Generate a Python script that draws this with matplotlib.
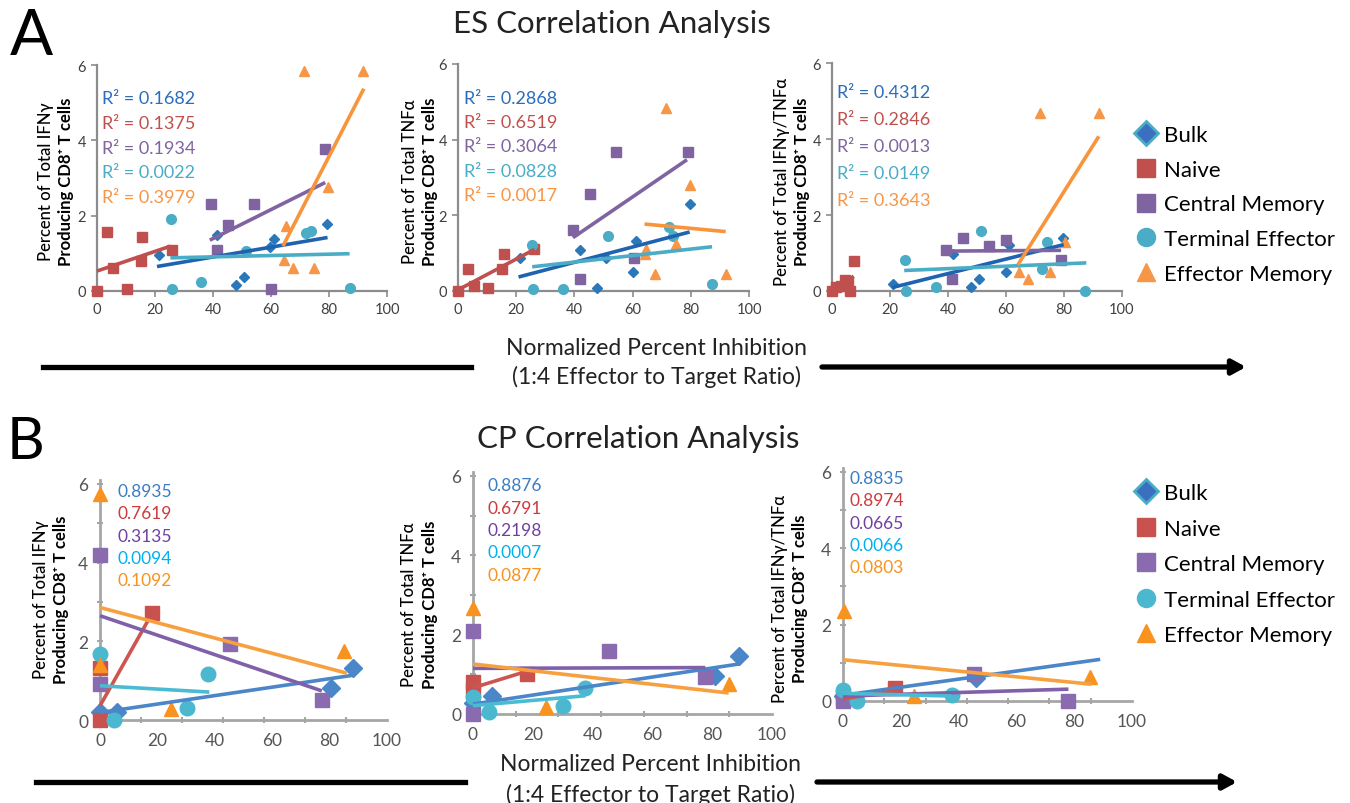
import matplotlib
matplotlib.use("Agg")
import matplotlib.pyplot as plt
from matplotlib.lines import Line2D
from matplotlib.patches import FancyArrowPatch

plt.rcParams["font.family"] = ["Lato", "DejaVu Sans"]

W, H = 1350, 804

series = ["Bulk", "Naive", "Central Memory", "Terminal Effector", "Effector Memory"]
markers = ["D", "s", "s", "o", "^"]

# ---- ES panel (A): points (x = normalized % inhibition, y = % of total) ----
es_ifng = {
    "Bulk": ([21.3, 41.4, 47.9, 50.8, 59.8, 61.0, 79.3], [0.96, 1.49, 0.16, 0.37, 1.17, 1.37, 1.77]),
    "Naive": ([0, 3.4, 5.4, 10.3, 15.5, 15.2, 25.9], [0, 1.57, 0.62, 0.04, 1.43, 0.80, 1.08]),
    "Central Memory": ([39.3, 41.4, 45.2, 54.3, 60.0, 78.7], [2.32, 1.08, 1.75, 2.32, 0.06, 3.78]),
    "Terminal Effector": ([25.5, 25.9, 36.0, 51.5, 72.2, 73.9, 87.1], [1.92, 0.06, 0.24, 1.06, 1.55, 1.59, 0.09]),
    "Effector Memory": ([64.4, 65.0, 67.6, 71.3, 74.9, 79.7, 91.7], [0.81, 1.73, 0.62, 5.84, 0.62, 2.76, 5.84]),
}
es_tnfa = {
    "Bulk": ([21.2, 41.8, 47.9, 51.0, 60.1, 61.0, 79.6], [0.86, 1.09, 0.09, 0.86, 0.49, 1.31, 2.29]),
    "Naive": ([0, 3.4, 5.4, 10.3, 15.7, 15.2, 26.0], [0, 0.57, 0.13, 0.07, 0.97, 0.57, 1.10]),
    "Central Memory": ([39.5, 41.8, 45.5, 54.4, 60.4, 79.0], [1.61, 0.33, 2.56, 3.68, 0.86, 3.68]),
    "Terminal Effector": ([25.5, 25.8, 36.0, 51.5, 72.5, 73.9, 87.3], [1.21, 0.04, 0.04, 1.46, 1.70, 1.46, 0.19]),
    "Effector Memory": ([64.4, 64.7, 67.6, 71.6, 75.0, 79.8, 92.0], [0.97, 1.10, 0.46, 4.85, 1.25, 2.80, 0.46]),
}
es_both = {
    "Bulk": ([21.0, 41.6, 47.9, 50.8, 60.0, 61.0, 79.5], [0.19, 0.98, 0.10, 0.31, 0.50, 1.20, 1.40]),
    "Naive": ([0, 1.5, 3.0, 4.6, 5.5, 6.2, 7.7], [0, 0.10, 0.12, 0.30, 0.25, 0, 0.80]),
    "Central Memory": ([39.3, 41.4, 45.2, 54.3, 60.1, 78.9], [1.09, 0.31, 1.40, 1.18, 1.33, 0.82]),
    "Terminal Effector": ([25.3, 25.6, 36.0, 51.5, 72.4, 74.1, 87.4], [0.81, 0, 0.10, 1.59, 0.59, 1.29, 0]),
    "Effector Memory": ([64.6, 67.5, 71.6, 75.3, 80.2, 92.2], [0.50, 0.31, 4.68, 0.50, 1.29, 4.68]),
}
# trend lines: (x start, x end, y start, y end)
es_ifng_fit = {"Bulk": (20.7, 79.5, 0.65, 1.42), "Naive": (0, 25.3, 0.53, 1.19),
               "Central Memory": (38.9, 78.7, 1.35, 2.88), "Terminal Effector": (25.3, 87.1, 0.88, 0.99),
               "Effector Memory": (64.1, 92.0, 1.19, 5.37)}
es_tnfa_fit = {"Bulk": (20.8, 79.6, 0.37, 1.56), "Naive": (0, 26.3, 0.03, 1.10),
               "Central Memory": (39.5, 78.7, 1.41, 3.47), "Terminal Effector": (25.5, 87.3, 0.64, 1.17),
               "Effector Memory": (64.1, 92.0, 1.77, 1.57)}
es_both_fit = {"Bulk": (20.7, 79.9, 0.09, 1.22), "Naive": (0.3, 7.5, 0.03, 0.39),
               "Central Memory": (39.3, 79.0, 1.05, 1.07), "Terminal Effector": (24.9, 87.7, 0.54, 0.74),
               "Effector Memory": (64.1, 92.0, 0.69, 4.07)}
es_ifng_r2 = ["0.1682", "0.1375", "0.1934", "0.0022", "0.3979"]
es_tnfa_r2 = ["0.2868", "0.6519", "0.3064", "0.0828", "0.0017"]
es_both_r2 = ["0.4312", "0.2846", "0.0013", "0.0149", "0.3643"]

# ---- CP panel (B) ----
cp_ifng = {
    "Bulk": ([0, 5.8, 80.6, 88.1], [0.20, 0.20, 0.82, 1.32]),
    "Naive": ([0, 0, 18.0], [0, 1.33, 2.71]),
    "Central Memory": ([0, 0, 45.3, 77.3], [4.19, 0.91, 1.94, 0.51]),
    "Terminal Effector": ([0, 5.0, 30.2, 37.8], [1.68, 0, 0.31, 1.16]),
    "Effector Memory": ([0, 0, 24.7, 85.1], [5.75, 1.40, 0.27, 1.76]),
}
cp_tnfa = {
    "Bulk": ([0, 6.4, 81.0, 88.9], [0.28, 0.45, 0.95, 1.46]),
    "Naive": ([0, 0, 18.1], [0.80, 0.60, 1.01]),
    "Central Memory": ([0, 0, 45.4, 77.7], [2.08, 0, 1.58, 0.93]),
    "Terminal Effector": ([0, 5.2, 30.1, 37.6], [0.42, 0.04, 0.19, 0.65]),
    "Effector Memory": ([0, 24.5, 85.5], [2.67, 0.17, 0.76]),
}
cp_both = {
    "Bulk": ([0, 46.0], [0.12, 0.60]),
    "Naive": ([0, 17.9], [0.08, 0.35]),
    "Central Memory": ([0, 45.3, 77.8], [0, 0.70, 0]),
    "Terminal Effector": ([0, 4.9, 37.6], [0.29, 0, 0.15]),
    "Effector Memory": ([0.3, 24.6, 85.5], [2.36, 0.13, 0.64]),
}
cp_ifng_fit = {"Bulk": (0, 88.4, 0.19, 1.14), "Naive": (0, 16.9, 0.36, 2.55),
               "Central Memory": (0, 77.3, 2.65, 0.74), "Terminal Effector": (0, 38.1, 0.87, 0.71),
               "Effector Memory": (0, 86.0, 2.86, 1.19)}
cp_tnfa_fit = {"Bulk": (0, 88.9, 0.25, 1.26), "Naive": (0, 18.1, 0.66, 1.08),
               "Central Memory": (0, 77.7, 1.15, 1.17), "Terminal Effector": (0, 37.6, 0.21, 0.46),
               "Effector Memory": (0, 85.5, 1.26, 0.53)}
cp_both_fit = {"Bulk": (0, 89.0, 0.15, 1.09), "Naive": (0, 17.9, 0.06, 0.26),
               "Central Memory": (0, 78.0, 0.13, 0.31), "Terminal Effector": (0, 37.6, 0.20, 0.13),
               "Effector Memory": (0, 86.0, 1.08, 0.44)}
cp_ifng_r2 = ["0.8935", "0.7619", "0.3135", "0.0094", "0.1092"]
cp_tnfa_r2 = ["0.8876", "0.6791", "0.2198", "0.0007", "0.0877"]
cp_both_r2 = ["0.8835", "0.8974", "0.0665", "0.0066", "0.0803"]

# colours (Excel-like palette)
es_mark = ["#2b78b8", "#c0504d", "#8064a2", "#4bacc6", "#f79646"]
es_line = ["#1f63b0", "#c0504d", "#8064a2", "#4bacc6", "#f7943c"]
es_text = ["#2a6ebb", "#c0504d", "#8064a2", "#4bacc6", "#f79646"]
cp_mark = ["#4a86c8", "#c9524f", "#8a6bb0", "#4bb8d0", "#f7931e"]
cp_line = ["#4a86c8", "#cc5550", "#8060a8", "#4bbbd4", "#f7a040"]
cp_text = ["#3a7dc4", "#d03a3c", "#7040a0", "#00b0f0", "#f7931e"]

fig = plt.figure(figsize=(W / 100, H / 100), dpi=100)


def fx(px):
    return px / W


def fy(py):
    return 1 - py / H


def make_axes(left, right, bottom, top):
    return fig.add_axes([fx(left), fy(bottom), (right - left) / W, (bottom - top) / H])


def style_es(ax):
    ax.set_xlim(0, 100)
    ax.set_ylim(0, 6)
    for s in ["top", "right"]:
        ax.spines[s].set_visible(False)
    for s in ["left", "bottom"]:
        ax.spines[s].set_color("#8c8c8c")
        ax.spines[s].set_linewidth(1.6)
    ax.set_xticks(range(0, 101, 20))
    ax.set_yticks(range(0, 7, 2))
    ax.tick_params(length=4, width=1.2, color="#8c8c8c", labelsize=10.5, labelcolor="#404040", pad=4)
    ax.patch.set_alpha(0)


def style_cp(ax):
    ax.set_xlim(0, 100)
    ax.set_ylim(0, 6.1)
    for s in ["top", "right"]:
        ax.spines[s].set_visible(False)
    for s in ["left", "bottom"]:
        ax.spines[s].set_color("#a6a6a6")
        ax.spines[s].set_linewidth(2)
    ax.set_xticks(range(0, 101, 20))
    ax.set_xticks([k * 100 / 7 for k in range(1, 8)], minor=True)
    ax.set_yticks(range(0, 7, 2))
    ax.set_yticks([1, 3, 5], minor=True)
    ax.tick_params(axis="x", which="major", length=0, labelsize=12.5, labelcolor="#555555", pad=9)
    ax.tick_params(axis="y", which="major", length=5, width=1.5, color="#a6a6a6", direction="inout",
                   labelsize=12.5, labelcolor="#555555", pad=6)
    ax.tick_params(which="minor", length=5, width=1.5, color="#a6a6a6", direction="inout")
    ax.patch.set_alpha(0)


def draw_panel(ax, pts, fits, msizes, mcol, lcol):
    for i, name in enumerate(series):
        x, y = pts[name]
        ax.plot(x, y, linestyle="none", marker=markers[i], ms=msizes[i], color=mcol[i],
                mec=mcol[i], clip_on=False, zorder=3)
    for i, name in enumerate(series):
        x0, x1, y0, y1 = fits[name]
        ax.plot([x0, x1], [y0, y1], color=lcol[i], lw=2.6, solid_capstyle="butt",
                clip_on=False, zorder=4)


def r2_text(x_px, y_px, step, values, colors, prefix, size):
    for k, v in enumerate(values):
        fig.text(fx(x_px), fy(y_px + k * step), prefix + v, color=colors[k], fontsize=size,
                 ha="left", va="center")


def ylabel(x1, x2, yc, line1, size):
    fig.text(fx(x1), fy(yc), line1, rotation=90, ha="center", va="center", fontsize=size,
             fontweight="medium")
    fig.text(fx(x2), fy(yc), "Producing CD8\u207a T cells", rotation=90, ha="center", va="center",
             fontsize=size, fontweight="bold")


es_ms = [5.5, 6.5, 6.5, 7, 7.5]
cp_ms = [9, 10, 10, 10.5, 10.5]

# ---------------- panel A ----------------
a1 = make_axes(97, 387, 292, 66)
a2 = make_axes(458, 749, 292, 65)
a3 = make_axes(832, 1122, 292, 64)
for ax, pts, fit in [(a1, es_ifng, es_ifng_fit), (a2, es_tnfa, es_tnfa_fit), (a3, es_both, es_both_fit)]:
    style_es(ax)
    draw_panel(ax, pts, fit, es_ms, es_mark, es_line)

r2_text(102, 99, 24.8, es_ifng_r2, es_text, "R\u00b2 = ", 13)
r2_text(464, 99, 24.2, es_tnfa_r2, es_text, "R\u00b2 = ", 13)
r2_text(837, 93, 27, es_both_r2, es_text, "R\u00b2 = ", 13)

ylabel(46, 66, 182, "Percent of Total IFN\u03b3", 12)
ylabel(410, 430, 182, "Percent of Total TNF\u03b1", 12)
ylabel(782, 802, 182, "Percent of Total IFN\u03b3/TNF\u03b1", 12)

# ---------------- panel B ----------------
b1 = make_axes(100, 387, 721, 481)
b2 = make_axes(473, 772, 715, 473)
b3 = make_axes(843, 1132, 702, 469)
for ax, pts, fit in [(b1, cp_ifng, cp_ifng_fit), (b2, cp_tnfa, cp_tnfa_fit), (b3, cp_both, cp_both_fit)]:
    style_cp(ax)
    draw_panel(ax, pts, fit, cp_ms, cp_mark, cp_line)

r2_text(118, 492, 22.3, cp_ifng_r2, cp_text, "", 12.5)
r2_text(487, 486, 22.5, cp_tnfa_r2, cp_text, "", 12.5)
r2_text(850, 479, 22.3, cp_both_r2, cp_text, "", 12.5)

ylabel(41, 61, 600, "Percent of Total IFN\u03b3", 12)
ylabel(409, 430, 605, "Percent of Total TNF\u03b1", 12)
ylabel(780, 800, 599, "Percent of Total IFN\u03b3/TNF\u03b1", 12)


# ---------------- legends ----------------
def legend_handles(cols):
    hs = []
    for i in range(5):
        face = "#3b6fc0" if i == 0 else cols[i]
        edge = "#4bacc6" if i == 0 else cols[i]
        hs.append(Line2D([], [], ls="none", marker=markers[i], ms=13 if i else 12,
                         mfc=face, mec=edge, mew=2 if i == 0 else 1))
    return hs


for top_px, spacing, cols in [(126, 0.66, es_mark), (484, 0.7, cp_mark)]:
    fig.legend(legend_handles(cols), series, loc="upper left", bbox_to_anchor=(fx(1136), fy(top_px)),
               frameon=False, fontsize=16, handlelength=0.9, handletextpad=0.35,
               labelspacing=spacing, borderpad=0, borderaxespad=0)

# ---------------- titles, labels, arrows ----------------
fig.text(fx(10), fy(55), "A", fontsize=46, ha="left", va="baseline")
fig.text(fx(7), fy(459), "B", fontsize=42, ha="left", va="baseline")
fig.text(fx(612), fy(33), "ES Correlation Analysis", fontsize=22.5, ha="center", va="baseline", color="#222222")
fig.text(fx(638), fy(448), "CP Correlation Analysis", fontsize=22.5, ha="center", va="baseline", color="#222222")

for cy1, cy2, cx in [(349, 377, 657), (765, 795, 651)]:
    fig.text(fx(cx), fy(cy1), "Normalized Percent Inhibition", fontsize=16.5, ha="center", va="center", color="#222222")
    fig.text(fx(cx), fy(cy2), "(1:4 Effector to Target Ratio)", fontsize=16.5, ha="center", va="center", color="#222222")

for y, l0, l1, r0, r1 in [(368, 43, 471, 822, 1246), (783, 36, 465, 817, 1237)]:
    fig.add_artist(Line2D([fx(l0), fx(l1)], [fy(y), fy(y)], lw=3.8, color="black"))
    fig.add_artist(FancyArrowPatch((fx(r0), fy(y)), (fx(r1), fy(y)), transform=fig.transFigure,
                                   arrowstyle="-|>,head_length=0.4,head_width=0.22", mutation_scale=20,
                                   lw=3.8, color="black", shrinkA=0, shrinkB=0))

fig.savefig("out.png", dpi=100)
